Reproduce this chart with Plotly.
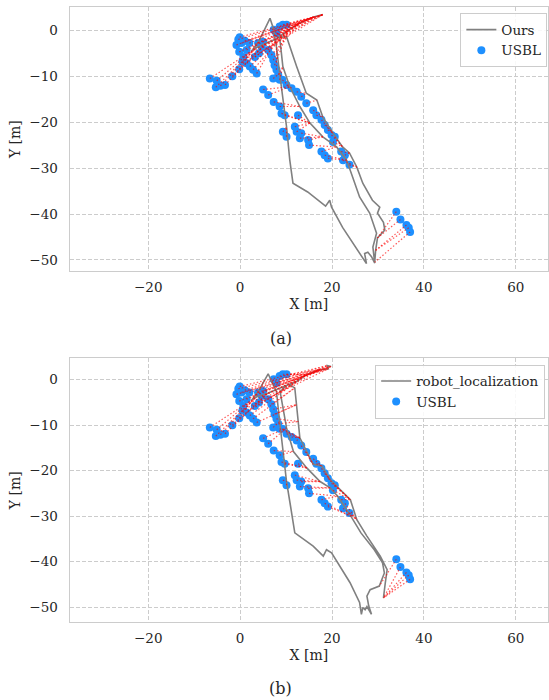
import plotly.graph_objects as go

# ---------------- data (metres) ----------------
usbl_x = [-0.4, -0.1, -0.8, -0.2, 0.3, 1.0, 2.0, 1.4, 0.7, 0.5, 1.4, 2.1, 2.8, 3.6, 3.2, 4.1,
          4.7, 5.0, 3.9, 6.1, 6.8, 7.2, 7.5, 7.9, 8.3, 8.6, 7.2, 7.9, 8.6, 9.3, 10.1, 7.3,
          -6.6, -5.1, -5.3, -4.3, -3.3, -1.7, -0.2,
          5.0, 6.1, 7.3, 8.6, 9.0, 9.7, 9.3, 10.1,
          9.2, 10.1, 11.2, 12.3, 13.3, 14.4, 15.9, 16.6, 17.7, 18.4, 19.1, 19.9, 20.6, 20.2,
          12.6, 11.9, 12.3, 13.3, 13.0, 14.8, 15.0, 17.7, 18.4, 19.1, 22.0, 22.8, 22.4, 23.8,
          34.0, 34.9, 36.2, 36.7, 37.0]
usbl_y = [-2.0, -1.5, -3.2, -4.7, -2.8, -2.3, -2.8, -4.3, -5.8, -6.8, -7.2, -7.9, -8.6, -9.4, -5.8, -5.0,
          -3.6, -2.5, -2.8, -4.3, -5.4, -6.5, -7.6, -8.6, -9.7, -10.8, -10.5, -0.7, 0.8, 1.2, 1.2, 0.1,
          -10.5, -11.0, -12.4, -12.1, -11.9, -10.0, -8.5,
          -12.9, -14.1, -15.6, -16.6, -18.1, -18.5, -22.1, -23.2,
          -10.8, -11.9, -12.6, -13.4, -14.5, -15.9, -17.4, -18.5, -19.5, -20.6, -21.7, -22.8, -23.2, -24.3,
          -18.5, -21.0, -22.1, -22.4, -23.5, -23.9, -25.0, -26.4, -27.2, -27.9, -26.4, -27.2, -28.3, -29.3,
          -39.5, -41.2, -42.4, -43.0, -43.9]

ours_x = [18.0, 16.0, 13.0, 10.5, 8.0, 5.5, 3.5, 2.5, 4.0, 5.0, 6.5, 7.2, 7.9, 8.6, 9.3, 10.1,
          10.8, 11.5, 14.7, 18.6, 19.5, 19.9, 22.3, 26.0, 27.5, 27.1, 27.8, 28.6, 29.3, 28.9,
          29.7, 28.2, 26.0, 24.5, 23.2, 21.0, 18.0, 15.2, 13.0, 10.8, 9.3, 8.6, 10.1, 12.3,
          14.4, 16.7, 18.0, 20.2, 22.3, 23.8, 25.4, 26.7, 28.8, 30.4, 29.9, 31.2, 31.5, 29.9,
          29.5, 29.3]
ours_y = [3.4, 2.9, 1.6, 0.0, -1.8, -3.0, -3.8, -4.5, -2.5, -0.5, 2.6, 0.5, -3.6, -9.4, -15.2, -21.0,
          -28.2, -33.3, -35.2, -38.3, -37.0, -38.5, -42.9, -48.5, -50.8, -48.6, -48.3, -49.3, -50.7, -47.2,
          -44.2, -39.8, -36.3, -32.0, -28.3, -25.4, -23.2, -20.2, -16.6, -12.3, -7.9, -1.5, -1.4, -7.9,
          -13.7, -15.2, -18.9, -22.4, -25.4, -26.7, -29.8, -33.3, -37.0, -38.5, -39.8, -41.8, -43.5, -45.2,
          -47.9, -50.5]

rl_x = [19.8, 19.0, 19.2, 17.3, 14.5, 12.3, 9.5, 6.0, 3.5, 2.5, 4.0, 5.0, 6.1, 6.9, 7.9, 8.6,
        9.3, 10.1, 11.0, 11.9, 15.9, 18.1, 18.8, 19.9, 23.9, 26.0, 26.4, 26.7, 27.2, 27.6,
        28.6, 28.0, 27.6, 28.3, 30.3, 31.4, 31.0, 29.2, 26.3, 24.1, 21.2, 19.6, 17.4, 14.5,
        11.6, 10.1, 8.7, 10.5, 11.9, 12.3, 12.7, 13.0, 15.9, 17.8, 19.6, 24.0, 25.4, 27.6,
        30.5, 32.0, 31.6, 31.2]
rl_y = [2.9, 3.1, 2.4, 2.2, 1.1, -0.4, -1.5, -3.0, -3.8, -4.5, -2.5, -0.8, 1.3, -0.5, -2.6, -9.2,
        -15.8, -22.4, -28.0, -33.7, -36.6, -38.8, -37.4, -38.1, -44.6, -49.0, -51.6, -50.1, -50.6, -49.9,
        -51.6, -49.8, -47.6, -46.2, -45.4, -42.5, -40.3, -37.4, -33.7, -30.0, -25.6, -23.8, -22.4, -19.4,
        -15.8, -10.6, -2.6, -1.0, -1.8, -5.5, -9.2, -12.8, -18.6, -19.0, -22.0, -26.4, -30.8, -34.4,
        -38.8, -41.8, -44.7, -48.0]

# index of the estimated pose at the time of each USBL fix
match_ours = [0, 0, 1, 1, 0, 0, 1, 1, 2, 2, 2, 3, 3, 4, 1, 0,
              0, 0, 1, 2, 2, 3, 3, 4, 40, 40, 13, 2, 2, 1, 1, 3,
              7, 7, 6, 6, 5, 5, 8,
              39, 39, 38, 38, 37, 37, 15, 15,
              39, 39, 39, 44, 44, 45, 46, 46, 47, 47, 47, 48, 48, 48,
              37, 37, 37, 36, 36, 36, 35, 35, 34, 34, 49, 49, 50, 50,
              57, 57, 58, 58, 59]
match_rl = [0, 1, 2, 3, 0, 1, 2, 3, 4, 4, 5, 5, 48, 49, 3, 2,
            1, 0, 0, 4, 48, 49, 49, 50, 50, 51, 15, 3, 3, 4, 4, 13,
            9, 9, 8, 8, 7, 7, 10,
            45, 45, 44, 44, 43, 43, 17, 17,
            51, 51, 51, 51, 52, 52, 53, 53, 54, 54, 55, 55, 55, 55,
            43, 42, 42, 42, 41, 41, 40, 40, 39, 39, 55, 56, 56, 56,
            34, 61, 61, 61, 61]

x_ticks = [-20, 0, 20, 40, 60]
y_ticks = [0, -10, -20, -30, -40, -50]

FONT = "DejaVu Serif"
TXT = "#262626"
GRID = "#cccccc"


def links(tx, ty, match):
    xs, ys = [], []
    for ux, uy, k in zip(usbl_x, usbl_y, match):
        xs += [ux, tx[k], None]
        ys += [uy, ty[k], None]
    return xs, ys


fig = go.Figure()

panels = [
    (ours_x, ours_y, match_ours, "Ours", "x", "y", "legend"),
    (rl_x, rl_y, match_rl, "robot_localization", "x2", "y2", "legend2"),
]
for tx, ty, match, name, xa, ya, lg in panels:
    fig.add_trace(go.Scatter(x=usbl_x, y=usbl_y, mode="markers", name="USBL",
                             marker=dict(color="#1E90FF", size=8, line=dict(width=0)),
                             xaxis=xa, yaxis=ya, legend=lg, legendrank=2))
    fig.add_trace(go.Scatter(x=tx, y=ty, mode="lines", name=name,
                             line=dict(color="#808080", width=1.6),
                             xaxis=xa, yaxis=ya, legend=lg, legendrank=1))
    lx, ly = links(tx, ty, match)
    fig.add_trace(go.Scatter(x=lx, y=ly, mode="lines", showlegend=False,
                             line=dict(color="rgba(255,0,0,0.65)", width=1.2, dash="1.5px,2px"),
                             xaxis=xa, yaxis=ya, hoverinfo="skip"))

axis_common = dict(showgrid=True, gridcolor=GRID, griddash="4px,2px", gridwidth=1,
                   zeroline=False, showline=True, mirror=True, linecolor=GRID, linewidth=1.3,
                   ticks="", automargin=False,
                   tickfont=dict(family=FONT, size=13.5, color=TXT))

xdom = [0.127, 0.998]
for i, (ydom, yr) in enumerate([([0.6129, 0.9896], [-52.4, 5.0]),
                                 ([0.1114, 0.4881], [-53.3, 4.7])]):
    sx = "" if i == 0 else "2"
    fig.layout["xaxis" + sx] = dict(axis_common, domain=xdom, range=[-37.1, 67.0],
                                     tickvals=x_ticks, anchor="y" + sx, ticklabelstandoff=4,
                                     title=dict(text="X [m]", standoff=4,
                                                font=dict(family=FONT, size=14, color=TXT)))
    fig.layout["yaxis" + sx] = dict(axis_common, domain=ydom, range=yr,
                                     tickvals=y_ticks, anchor="x" + sx, ticklabelstandoff=8,
                                     title=dict(text="Y [m]", standoff=5,
                                                font=dict(family=FONT, size=14, color=TXT)))

legend_common = dict(bgcolor="rgba(255,255,255,0.85)", bordercolor=GRID, borderwidth=1,
                     font=dict(family=FONT, size=13.5, color=TXT), xanchor="right", yanchor="top")
fig.update_layout(
    width=549, height=700,
    margin=dict(l=0, r=0, t=0, b=0, autoexpand=False),
    paper_bgcolor="white", plot_bgcolor="white",
    font=dict(family=FONT, color=TXT),
    legend=dict(legend_common, x=0.997, y=0.981),
    legend2=dict(legend_common, x=0.993, y=0.479),
    annotations=[
        dict(text="(a)", x=0.511, y=1 - 338 / 700, xref="paper", yref="paper", yanchor="middle",
             showarrow=False, font=dict(family=FONT, size=16, color=TXT)),
        dict(text="(b)", x=0.511, y=1 - 688 / 700, xref="paper", yref="paper", yanchor="middle",
             showarrow=False, font=dict(family=FONT, size=16, color=TXT)),
    ],
)

fig.write_html("out.html", config={"displayModeBar": False},
               post_script="document.body.style.margin='0';document.body.style.padding='0';")
